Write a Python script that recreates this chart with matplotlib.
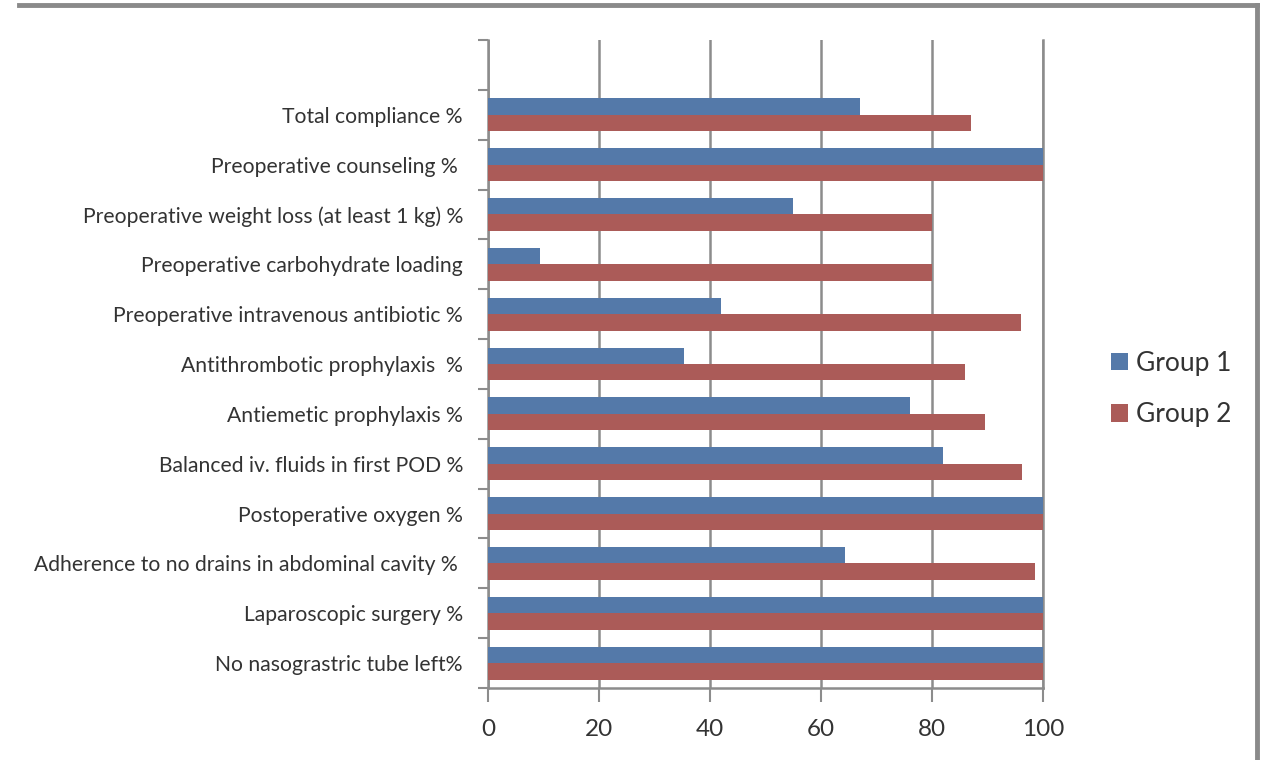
import matplotlib
matplotlib.use("Agg")
import matplotlib.pyplot as plt
from matplotlib.patches import Patch
from matplotlib.lines import Line2D
import numpy as np

categories = [
    "Total compliance %",
    "Preoperative counseling % ",
    "Preoperative weight loss (at least 1 kg) %",
    "Preoperative carbohydrate loading",
    "Preoperative intravenous antibiotic %",
    "Antithrombotic prophylaxis  %",
    "Antiemetic prophylaxis %",
    "Balanced iv. fluids in first POD %",
    "Postoperative oxygen %",
    "Adherence to no drains in abdominal cavity % ",
    "Laparoscopic surgery %",
    "No nasograstric tube left%",
]
group1 = [67, 100, 55, 9.3, 42, 35.3, 76, 82, 100, 64.3, 100, 100]
group2 = [87, 100, 80, 80, 96, 86, 89.5, 96.2, 100, 98.5, 100, 100]
series_names = ["Group 1", "Group 2"]
x_ticks = [0, 20, 40, 60, 80, 100]

blue = "#5479A9"
red = "#AB5B58"
grid_c = "#8c8c8c"
text_c = "#333333"

plt.rcParams["font.family"] = ["Lato", "DejaVu Sans"]

fig = plt.figure(figsize=(12.63, 7.6), dpi=100, facecolor="white")

# outer frame: top and right edges
fig.add_artist(Line2D([19 / 1263, 1257 / 1263], [1 - 5 / 760, 1 - 5 / 760],
                      transform=fig.transFigure, color="#8a8a8a", lw=3.5))
fig.add_artist(Line2D([1257 / 1263, 1257 / 1263], [0, 1 - 5 / 760],
                      transform=fig.transFigure, color="#8a8a8a", lw=3.5))

ax = fig.add_axes([488 / 1263, 1 - 688 / 760, 555 / 1263, 648 / 760])
ax.set_facecolor("white")

n = len(categories)
pos = np.arange(n)[::-1].astype(float)  # first category on top
h = 0.33
ax.barh(pos + h / 2, group1, height=h, color=blue, zorder=3, label=series_names[0])
ax.barh(pos - h / 2, group2, height=h, color=red, zorder=3, label=series_names[1])

ax.set_xlim(0, 100)
ax.set_ylim(-0.5, n + 0.5)  # one empty slot above the first category

ax.set_xticks(x_ticks)
ax.set_xticklabels([str(v) for v in x_ticks], fontsize=17.5, color=text_c)
ax.tick_params(axis="x", length=10, width=1.5, color=grid_c, pad=12, direction="out")
ax.xaxis.grid(True, color=grid_c, lw=1.8, zorder=0)
ax.axvline(100, color=grid_c, lw=1.8, zorder=0, clip_on=False)

ax.set_yticks(pos)
ax.set_yticklabels(categories, fontsize=15.2, color=text_c)
ax.set_yticks(np.arange(-0.5, n + 1.0, 1.0), minor=True)
ax.tick_params(axis="y", which="major", length=0, pad=18)
ax.tick_params(axis="y", which="minor", length=7, width=1.5, color=grid_c, direction="out")

for side in ("top", "right"):
    ax.spines[side].set_visible(False)
for side in ("left", "bottom"):
    ax.spines[side].set_color(grid_c)
    ax.spines[side].set_linewidth(1.8)

handles = [Patch(facecolor=blue), Patch(facecolor=red)]
fig.legend(handles, series_names, loc="center left",
           bbox_to_anchor=(1087 / 1263, 1 - 389 / 760), frameon=False,
           fontsize=19, handlelength=0.65, handleheight=0.65, handletextpad=0.3,
           labelspacing=1.0, labelcolor=text_c)

fig.savefig("out.png", dpi=100, facecolor="white")
